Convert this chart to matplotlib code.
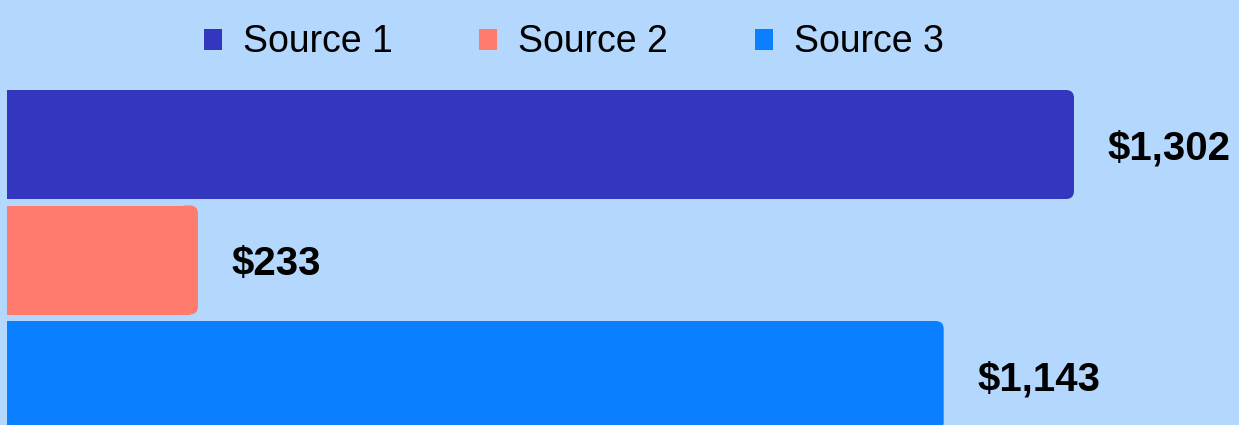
import matplotlib
matplotlib.use("Agg")
import matplotlib.pyplot as plt
from matplotlib.patches import FancyBboxPatch, Patch

# data
sources = ["Source 1", "Source 2", "Source 3"]
values = [1302, 233, 1143]
labels = ["$1,302", "$233", "$1,143"]
colors = ["#3336BE", "#FF7B6E", "#0A7FFF"]
bg = "#B3D7FD"

plt.rcParams['font.family'] = ['Liberation Sans', 'DejaVu Sans']

fig = plt.figure(figsize=(12.39, 4.25), dpi=100, facecolor=bg)
ax = fig.add_axes([0, 0, 1, 1], facecolor=bg)

px_x = 0.8195          # pixels per data unit (x)
px_y = 115.5           # pixels per bar slot (y)
x0_px = 7
ax.set_xlim(-x0_px / px_x, (1239 - x0_px) / px_x)
ax.set_ylim((425 - 144.5) / px_y, -144.5 / px_y)

bar_h = 109 / px_y
r = 8 / px_x                      # corner radius in x units
aspect = (8 / px_y) / r

for i, (v, c) in enumerate(zip(values, colors)):
    # square left part
    ax.barh(i, v - r, height=bar_h, color=c, linewidth=0)
    # rounded right end
    ax.add_patch(FancyBboxPatch((v - 2.5 * r, i - bar_h / 2), 2.5 * r, bar_h,
                                boxstyle=f"round,pad=0,rounding_size={r}",
                                mutation_aspect=aspect, facecolor=c,
                                linewidth=0))
    ax.text(v + 34 / px_x, i + 4 / px_y, labels[i], va='center', ha='left',
            fontsize=29, fontweight='bold', color='black')

ax.set_axis_off()

handles = [Patch(facecolor=c, edgecolor='none') for c in colors]
leg = fig.legend(handles, sources, loc='center', bbox_to_anchor=(0.463, 0.90),
                 ncol=3, frameon=False, fontsize=27,
                 handlelength=0.49, handleheight=0.49, handletextpad=0.56,
                 columnspacing=2.3)

fig.savefig("out.png", dpi=100, facecolor=bg)
